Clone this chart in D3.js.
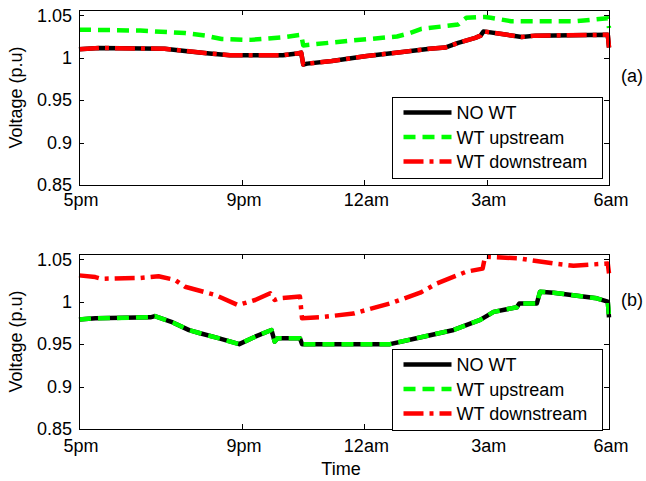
<!DOCTYPE html>
<html>
<head>
<meta charset="utf-8">
<script src="https://cdn.jsdelivr.net/npm/d3@7"></script>
<style>
  body { margin: 0; background: #fff; }
  text { font-family: "Liberation Sans", Arial, sans-serif; fill: #000; }
</style>
</head>
<body>
<div id="chart"></div>
<script>
// size of the figure
var w = 646;
var h = 481;

// x ticks (hours after 5pm) and their labels
var tickHours = [0, 4, 7, 10, 13];
var tickLabels = ["5pm", "9pm", "12am", "3am", "6am"];
var yTicks = [0.85, 0.9, 0.95, 1, 1.05];
var yTickLabels = ["0.85", "0.9", "0.95", "1", "1.05"];

// series names
var seriesNames = ["NO WT", "WT upstream", "WT downstream"];

// (a) no WT - hours and voltage
var timeA0 = [0, 0.5, 2.1, 2.6, 3.2, 3.7, 5.0, 5.35, 5.45, 5.5, 5.6, 6.2, 7.06, 7.88, 8.6, 8.98, 9.3, 9.72, 9.85, 9.92, 10.5, 10.86, 11.2, 12.97, 13];
var voltA0 = [1.010, 1.0115, 1.0105, 1.008, 1.005, 1.003, 1.003, 1.005, 1.006, 0.992, 0.993, 0.996, 1.002, 1.0065, 1.0105, 1.012, 1.0174, 1.0233, 1.026, 1.031, 1.027, 1.0245, 1.026, 1.027, 1.012];
// (a) WT upstream
var timeA1 = [0, 1.5, 2.6, 3.1, 3.5, 4.2, 5.0, 5.45, 5.5, 5.7, 6.65, 7.8, 8.05, 8.4, 9.3, 9.5, 9.96, 10.1, 10.6, 12.2, 12.97, 13];
var voltA1 = [1.033, 1.032, 1.029, 1.026, 1.022, 1.021, 1.024, 1.027, 1.0145, 1.0155, 1.020, 1.025, 1.028, 1.034, 1.039, 1.047, 1.048, 1.047, 1.043, 1.043, 1.0465, 1.035];
// (a) WT downstream
var timeA2 = [0, 0.5, 2.1, 2.6, 3.2, 3.7, 5.0, 5.35, 5.45, 5.5, 5.6, 6.2, 7.06, 7.88, 8.6, 8.98, 9.3, 9.72, 9.85, 9.92, 10.5, 10.86, 11.2, 12.97, 13];
var voltA2 = [1.010, 1.0115, 1.0105, 1.008, 1.005, 1.003, 1.003, 1.005, 1.006, 0.992, 0.993, 0.996, 1.002, 1.0065, 1.0105, 1.012, 1.0174, 1.0233, 1.026, 1.031, 1.027, 1.0245, 1.026, 1.027, 1.012];

// (b) no WT
var timeB0 = [0, 0.4, 1.75, 1.86, 2.3, 2.7, 2.97, 3.42, 3.93, 4.32, 4.72, 4.8, 4.87, 5.42, 5.47, 7.63, 8.28, 9.19, 9.84, 10.17, 10.74, 10.8, 11.23, 11.31, 11.64, 12.7, 12.97, 13];
var voltB0 = [0.979, 0.9805, 0.9816, 0.983, 0.9755, 0.9665, 0.9628, 0.957, 0.950, 0.9588, 0.9667, 0.953, 0.957, 0.957, 0.950, 0.950, 0.957, 0.9667, 0.9785, 0.988, 0.9934, 0.998, 0.998, 1.0118, 1.0106, 1.004, 1.0, 0.9816];
// (b) WT upstream
var timeB1 = [0, 0.4, 1.75, 1.86, 2.3, 2.7, 2.97, 3.42, 3.93, 4.32, 4.72, 4.8, 4.87, 5.42, 5.47, 7.63, 8.28, 9.19, 9.84, 10.17, 10.74, 10.8, 11.23, 11.31, 11.64, 12.7, 12.97, 13];
var voltB1 = [0.979, 0.9805, 0.9816, 0.983, 0.9755, 0.9665, 0.9628, 0.957, 0.950, 0.9588, 0.9667, 0.953, 0.957, 0.957, 0.950, 0.950, 0.957, 0.9667, 0.9785, 0.988, 0.9934, 0.998, 0.998, 1.0118, 1.0106, 1.004, 1.0, 0.9816];
// (b) WT downstream
var timeB2 = [0, 0.4, 0.55, 1.5, 1.95, 2.36, 2.6, 3.34, 3.9, 4.32, 4.69, 4.8, 4.9, 5.42, 5.47, 5.9, 6.73, 7.63, 8.37, 8.78, 9.5, 9.9, 9.96, 10.8, 11.64, 12.13, 12.97, 13];
var voltB2 = [1.031, 1.029, 1.027, 1.028, 1.030, 1.0255, 1.0176, 1.008, 0.996, 1.002, 1.0099, 1.002, 1.004, 1.006, 0.9805, 0.9816, 0.986, 0.998, 1.0106, 1.0216, 1.0353, 1.039, 1.053, 1.051, 1.045, 1.0424, 1.045, 1.0334];

// styles for the three series
var colors = ["#000000", "#00ff00", "#ff0000"];
var dashes = ["none", "12,7", "20,6,4,6"];

var left = 79, right = 609;
var panels = [
  { top: 10, bottom: 185, tag: "(a)", tagY: 82, legendTop: 97, labelY: 206,
    series: [[timeA0, voltA0], [timeA1, voltA1], [timeA2, voltA2]] },
  { top: 254, bottom: 429, tag: "(b)", tagY: 306, legendTop: 349, labelY: 452,
    series: [[timeB0, voltB0], [timeB1, voltB1], [timeB2, voltB2]] }
];

var svg = d3.select("#chart").append("svg")
  .attr("width", w)
  .attr("height", h);

var xScale = d3.scaleLinear()
  .domain([0, 13])
  .range([left, right]);

panels.forEach(function(p) {
  var yScale = d3.scaleLinear()
    .domain([0.85, 1.0562])
    .range([p.bottom, p.top]);

  var g = svg.append("g");

  // lines
  var line = d3.line()
    .x(function(d) { return xScale(d[0]); })
    .y(function(d) { return yScale(d[1]); });

  p.series.forEach(function(s, i) {
    var pts = s[0].map(function(t, k) { return [t, s[1][k]]; });
    g.append("path")
      .datum(pts)
      .attr("fill", "none")
      .attr("stroke", colors[i])
      .attr("stroke-width", 4.5)
      .attr("stroke-dasharray", dashes[i])
      .attr("stroke-linejoin", "round")
      .attr("d", line);
  });

  // ticks on all four sides, pointing inward
  var ax = g.append("g").attr("stroke", "#000").attr("stroke-width", 1);
  tickHours.forEach(function(t) {
    var x = Math.round(xScale(t)) + 0.5;
    ax.append("line").attr("x1", x).attr("x2", x).attr("y1", p.bottom).attr("y2", p.bottom - 5);
    ax.append("line").attr("x1", x).attr("x2", x).attr("y1", p.top).attr("y2", p.top + 5);
  });
  yTicks.forEach(function(v) {
    var y = Math.round(yScale(v)) + 0.5;
    ax.append("line").attr("x1", left).attr("x2", left + 5).attr("y1", y).attr("y2", y);
    ax.append("line").attr("x1", right).attr("x2", right - 5).attr("y1", y).attr("y2", y);
  });

  // axes box
  g.append("rect")
    .attr("x", left + 0.5)
    .attr("y", p.top + 0.5)
    .attr("width", right - left)
    .attr("height", p.bottom - p.top)
    .attr("fill", "none")
    .attr("stroke", "#000")
    .attr("stroke-width", 1);

  // tick labels
  tickHours.forEach(function(t, i) {
    g.append("text")
      .attr("x", xScale(t) + 2)
      .attr("y", p.labelY)
      .attr("text-anchor", "middle")
      .attr("font-size", "18px")
      .text(tickLabels[i]);
  });
  yTicks.forEach(function(v, i) {
    g.append("text")
      .attr("x", 72)
      .attr("y", yScale(v))
      .attr("dy", "0.35em")
      .attr("text-anchor", "end")
      .attr("font-size", "18px")
      .text(yTickLabels[i]);
  });

  // y axis label
  g.append("text")
    .attr("transform", "translate(22," + ((p.top + p.bottom) / 2) + ") rotate(-90)")
    .attr("text-anchor", "middle")
    .attr("font-size", "18px")
    .text("Voltage (p.u)");

  // panel tag
  g.append("text")
    .attr("x", 621)
    .attr("y", p.tagY)
    .attr("font-size", "18px")
    .text(p.tag);

  // legend
  var lg = g.append("g").attr("transform", "translate(392.5," + (p.legendTop + 0.5) + ")");
  lg.append("rect")
    .attr("width", 210)
    .attr("height", 81)
    .attr("fill", "#fff")
    .attr("stroke", "#000")
    .attr("stroke-width", 1);
  seriesNames.forEach(function(name, i) {
    var y = 15 + i * 24.5;
    lg.append("line")
      .attr("x1", 11).attr("x2", 59)
      .attr("y1", y).attr("y2", y)
      .attr("stroke", colors[i])
      .attr("stroke-width", 4.5)
      .attr("stroke-dasharray", dashes[i]);
    lg.append("text")
      .attr("x", 64)
      .attr("y", y + 6.5)
      .attr("font-size", "18px")
      .text(name);
  });
});

// x axis label
svg.append("text")
  .attr("x", 341)
  .attr("y", 475)
  .attr("text-anchor", "middle")
  .attr("font-size", "18px")
  .text("Time");
</script>
</body>
</html>
